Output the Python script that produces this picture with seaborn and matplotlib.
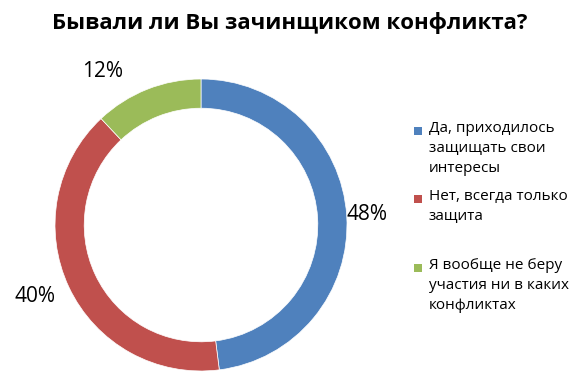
import matplotlib
matplotlib.use("Agg")
import matplotlib.pyplot as plt
import seaborn as sns
import numpy as np
from matplotlib.patches import Rectangle

title = "Бывали ли Вы зачинщиком конфликта?"
categories = ["Да, приходилось\nзащищать свои\nинтересы",
              "Нет, всегда только\nзащита",
              "Я вообще не беру\nучастия ни в каких\nконфликтах"]
values = [48, 40, 12]
pct_labels = ["48%", "40%", "12%"]

sns.set_theme(style="white")
plt.rcParams['font.family'] = ['Open Sans', 'DejaVu Sans']

colors = sns.color_palette(["#4F81BD", "#C0504D", "#9BBB59"])

W, H = 580, 389
fig = plt.figure(figsize=(W / 100, H / 100), dpi=100)
ax = fig.add_axes([55 / W, 18 / H, 292 / W, 292 / H])
wedges, _ = ax.pie(values, colors=colors, startangle=90, counterclock=False,
                   wedgeprops=dict(width=0.2, edgecolor="white", linewidth=0.5))
ax.set_xlim(-1, 1)
ax.set_ylim(-1, 1)

# label placement based on wedge angles
label_cfg = [(1.16, 'left', 0), (1.24, 'center', -2), (1.25, 'center', 11)]
for w, lab, (r, ha, dang) in zip(wedges, pct_labels, label_cfg):
    ang = np.deg2rad((w.theta1 + w.theta2) / 2 + dang)
    x, y = r * np.cos(ang), r * np.sin(ang)
    if ha == 'left':
        x = 1.0
    ax.text(x, y, lab, ha=ha, va='center', fontsize=15, color='black', clip_on=False)

# legend (Excel style: equal slots, marker at first line)
first_line_y = [133, 201, 270]
for c, lab, yc in zip(colors, categories, first_line_y):
    fig.patches.append(Rectangle(((418 - 4) / W, 1 - (yc + 2) / H), 8 / W, 8 / H,
                                 transform=fig.transFigure, facecolor=c, edgecolor='none'))
    fig.text(429 / W, 1 - (yc - 12) / H, lab, ha='left', va='top', fontsize=11,
             color='black', linespacing=1.45)

fig.text(0.5, 1 - 23 / H, title, ha='center', va='center', fontsize=16,
         fontweight='bold', color='black')

fig.savefig("out.png", dpi=100)
